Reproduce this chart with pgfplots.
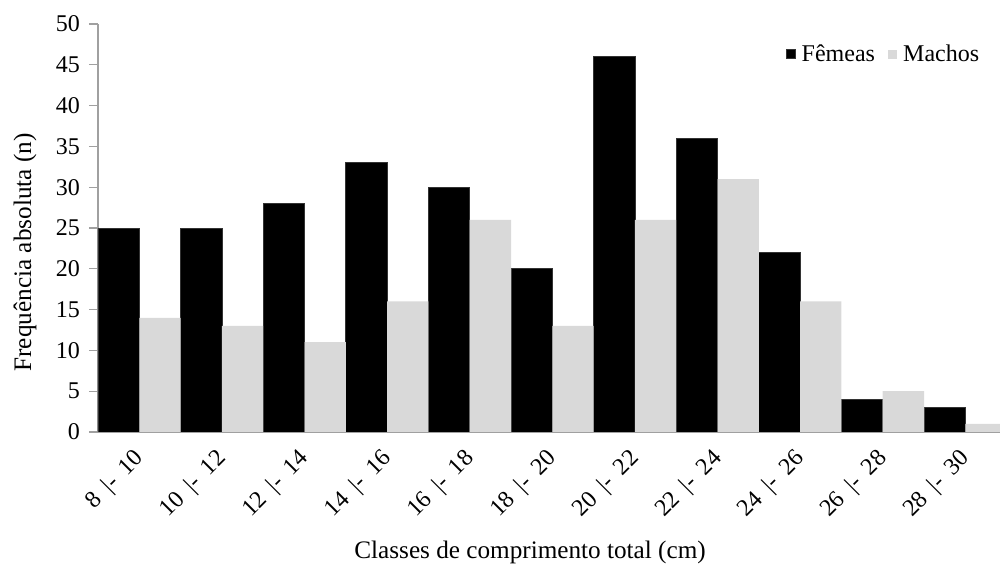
\documentclass[border=0pt]{standalone}
\usepackage{fontspec}
\setmainfont{Liberation Serif}
\usepackage{pgfplots}
\pgfplotsset{compat=1.18}
\definecolor{macho}{HTML}{D9D9D9}
\definecolor{axisgray}{HTML}{A0A0A0}
\newcommand{\tickfont}{\fontsize{12}{14}\selectfont}
\newcommand{\labelfont}{\fontsize{12.6}{15}\selectfont}
% class interval label: "a |- b"
\newcommand{\cls}[2]{#1\hspace{0.45em}|-\hspace{0.45em}#2}
\begin{document}
\begin{tikzpicture}
\begin{axis}[
  scale only axis,
  width=451pt, height=204pt,
  xmin=-0.5, xmax=10.42,
  ymin=0, ymax=50,
  ytick={0,5,...,50},
  axis x line*=bottom, axis y line*=left,
  axis line style={axisgray, line width=0.6pt},
  xtick={0,...,10},
  xticklabels={\cls{8}{10},\cls{10}{12},\cls{12}{14},\cls{14}{16},\cls{16}{18},\cls{18}{20},\cls{20}{22},\cls{22}{24},\cls{24}{26},\cls{26}{28},\cls{28}{30}},
  x tick style={draw=none},
  extra x ticks={-0.5,0.5,...,9.5},
  extra x tick labels={},
  extra x tick style={major tick length=4.5pt, tick align=outside, tick style={axisgray, line width=0.6pt}},
  y tick style={axisgray, line width=0.6pt},
  major tick length=4.5pt, tick align=outside,
  /pgf/number format/assume math mode=true,
  ticklabel style={font=\tickfont},
  xticklabel style={xshift=-3.4pt, yshift=-1.6pt, rotate=45, anchor=north east, inner sep=1pt},
  yticklabel style={xshift=-1pt},
  xlabel={Classes de comprimento total (cm)},
  xlabel style={font=\labelfont, at={(axis description cs:0.479,0)}, anchor=center, yshift=-60pt},
  ylabel={Frequência absoluta (n)},
  ylabel style={font=\labelfont, at={(axis description cs:-0.081,0.44)}, anchor=center},
  legend style={font=\tickfont, draw=none, fill=none, at={(rel axis cs:0.762,0.926)}, anchor=west,
    legend columns=2, inner sep=0pt,
    nodes={inner ysep=1.5pt, inner xsep=3pt},
    /tikz/every even column/.append style={column sep=3.5pt}},
  legend image code/.code={\fill[#1] (0pt,-2.3pt) rectangle (4.6pt,2.3pt);},
  clip=true,
]
\addplot[ybar, bar width=0.5, bar shift=-0.25, fill=black, draw=black!80]
  coordinates {(0,25) (1,25) (2,28) (3,33) (4,30) (5,20) (6,46) (7,36) (8,22) (9,4) (10,3)};
\addlegendentry{Fêmeas}
\addplot[ybar, bar width=0.5, bar shift=0.25, fill=macho, draw=none]
  coordinates {(0,14) (1,13) (2,11) (3,16) (4,26) (5,13) (6,26) (7,31) (8,16) (9,5) (10,1)};
\addlegendentry{Machos}
\coordinate (sw) at (rel axis cs:0,0);
\end{axis}
\pgfresetboundingbox
\path ([shift={(-49pt,-70pt)}]sw) rectangle ([shift={(451pt,216pt)}]sw);
\end{tikzpicture}
\end{document}
